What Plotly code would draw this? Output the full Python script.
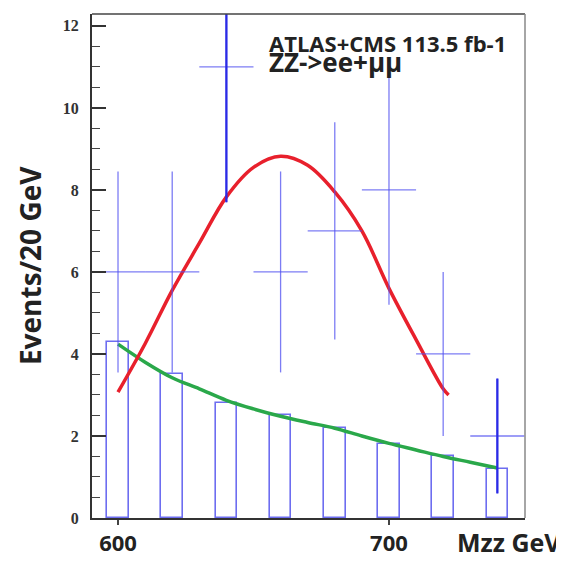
import plotly.graph_objects as go

# Data points (crosses)
mzz = [600, 620, 640, 660, 680, 700, 720, 740]
events = [6, 6, 11, 6, 7, 8, 4, 2]
ev_err = [2.45, 2.45, 3.3, 2.45, 2.65, 2.8, 2.0, 1.4]
bin_half = [10, 10, 10, 10, 10, 10, 10, 10]

# Highlighted (thick) vertical errors
hl_mzz = [640, 740]
hl_events = [11, 2]
hl_err = [3.3, 1.4]

# Background histogram
bg_x = [600, 620, 640, 660, 680, 700, 720, 740]
bg_y = [4.3, 3.5, 2.8, 2.5, 2.2, 1.8, 1.5, 1.2]

# Green background curve
green_x = [600, 610, 620, 630, 640, 650, 660, 670, 680, 690, 700, 710, 720, 730, 740]
green_y = [4.24, 3.8, 3.42, 3.15, 2.87, 2.66, 2.48, 2.33, 2.19, 2.0, 1.82, 1.66, 1.5, 1.36, 1.22]

# Red signal curve
red_x = [600, 610, 620, 630, 640, 650, 660, 670, 680, 690, 700, 710, 720, 722]
red_y = [3.07, 4.25, 5.55, 6.7, 7.83, 8.55, 8.82, 8.6, 7.95, 7.0, 5.6, 4.35, 3.15, 3.0]

yticks = [0, 2, 4, 6, 8, 10, 12]
xticks = [600, 700]

fig = go.Figure()

fig.add_trace(go.Bar(
    x=bg_x, y=bg_y, width=8,
    marker=dict(color="rgba(0,0,0,0)", line=dict(color="rgba(60,60,235,0.75)", width=1.6)),
    showlegend=False,
))

fig.add_trace(go.Scatter(
    x=green_x, y=green_y, mode="lines", line=dict(color="#2aa84a", width=3.5, shape="spline"),
    showlegend=False,
))

fig.add_trace(go.Scatter(
    x=red_x, y=red_y, mode="lines", line=dict(color="#e8202c", width=3.5, shape="spline"),
    showlegend=False,
))

fig.add_trace(go.Scatter(
    x=mzz, y=events, mode="markers",
    marker=dict(size=1, color="rgba(0,0,0,0)"),
    error_x=dict(type="data", array=bin_half, color="rgba(80,80,240,0.75)", thickness=1.3, width=0),
    error_y=dict(type="data", array=ev_err, color="rgba(80,80,240,0.75)", thickness=1.3, width=0),
    showlegend=False,
))

fig.add_trace(go.Scatter(
    x=hl_mzz, y=hl_events, mode="markers",
    marker=dict(size=1, color="rgba(0,0,0,0)"),
    error_y=dict(type="data", array=hl_err, color="#2a2ae6", thickness=2.3, width=0),
    showlegend=False,
))

fig.update_layout(
    width=556, height=555,
    margin=dict(l=84, r=39, t=6, b=37),
    paper_bgcolor="white", plot_bgcolor="white",
    bargap=0,
    xaxis=dict(
        range=[590.4, 750.2], tickvals=xticks, ticktext=[str(v) for v in xticks],
        ticks="outside", ticklen=5, tickwidth=1.5, tickcolor="#444",
        showline=True, linecolor="#333", linewidth=1.6,
        showgrid=False, zeroline=False,
        tickfont=dict(family="Open Sans", size=22, color="#222", weight="bold"),
    ),
    yaxis=dict(
        range=[0, 12.29], tickvals=yticks, ticktext=[str(v) for v in yticks],
        ticks="inside", ticklen=14, tickwidth=1.5, tickcolor="#333",
        minor=dict(dtick=0.5, ticks="inside", ticklen=8, tickwidth=1.2, tickcolor="#444"),
        showline=True, linecolor="#333", linewidth=2,
        showgrid=False, zeroline=False,
        ticklabelstandoff=8,
        tickfont=dict(family="Liberation Serif", size=16, color="#333", weight="bold"),
    ),
    shapes=[
        dict(type="line", xref="paper", yref="paper", x0=0, x1=1, y0=1, y1=1,
             line=dict(color="#444", width=1.5)),
        dict(type="line", xref="paper", yref="paper", x0=1, x1=1, y0=0, y1=1,
             line=dict(color="#888", width=1.5)),
    ],
    annotations=[
        dict(text='<span style="font-size:22px">ATLAS+CMS 113.5 fb-1</span><br>'
                  '<span style="font-size:26px">ZZ->ee+μμ</span>',
             xref="paper", yref="paper", align="left",
             x=0.405, y=0.977, xanchor="left", yanchor="top", showarrow=False,
             font=dict(family="Open Sans", size=15, color="#222", weight="bold")),
        dict(text="Events/20 GeV", xref="paper", yref="paper",
             x=-0.143, y=0.5, xanchor="center", yanchor="middle", textangle=-90,
             showarrow=False,
             font=dict(family="Open Sans", size=28, color="#222", weight="bold")),
        dict(text="Mzz GeV", xref="paper", yref="paper",
             x=0.838, y=-0.0095, xanchor="left", yanchor="top", showarrow=False,
             font=dict(family="Open Sans", size=25, color="#222", weight="bold")),
    ],
)

fig.write_html("out.html")
